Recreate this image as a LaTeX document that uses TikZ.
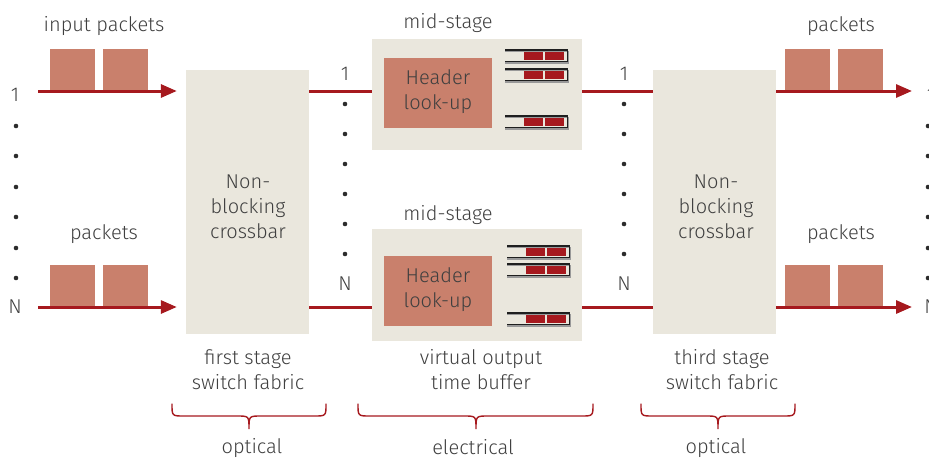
\documentclass[tikz,border=0pt]{standalone}
\usepackage{fontspec}
\setmainfont{Fira Sans}[UprightFont={* Light}]
\usetikzlibrary{arrows.meta}
\definecolor{wire}{HTML}{A6191E}
\definecolor{pkt}{HTML}{C9806C}
\definecolor{fabric}{HTML}{EAE7DD}
\definecolor{ink}{HTML}{3F3F3F}
\tikzset{
  lbl/.style={text=ink, font=\fontsize{20}{25}\selectfont, align=center, inner sep=0pt},
  fabricbox/.style={fill=fabric, draw=none, inner sep=0pt},
  pktbox/.style={fill=pkt, draw=none, inner sep=0pt, minimum width=45pt, minimum height=41pt},
  headerbox/.style={fill=pkt, draw=none, inner sep=0pt, minimum width=108pt, minimum height=70pt},
  wireline/.style={draw=wire, line width=3pt},
  wirearrow/.style={wireline, -{Triangle[length=16pt,width=13pt]}},
  dotmark/.style={circle, fill=ink!70!black, draw=none, inner sep=0pt, minimum size=4.6pt},
  bracepath/.style={draw=wire, line width=1.4pt, line cap=round},
  buffer/.pic={
    \fill[wire] (19,2.3) rectangle (38,10);
    \fill[wire] (40,2.3) rectangle (59,10);
    \draw[black!40, line width=1.4pt] (0,1.2) -- (63.6,1.2) -- (63.6,12.8) -- (0,12.8);
    \draw[black!88, line width=1.2pt] (0,0) -- (62.6,0) -- (62.6,11.8) -- (0,11.8);
  }
}
\begin{document}
\begin{tikzpicture}[x=1pt,y=-1pt]
  \useasboundingbox (0,0) rectangle (929,459);

  % switch fabrics
  \node[fabricbox, minimum width=123pt, minimum height=264pt] (xbar1) at (247.5,202) {};
  \node[fabricbox, minimum width=123pt, minimum height=264pt] (xbar3) at (714.5,202) {};
  \node[lbl] (xbar1txt) at (248,207) {Non-\\blocking\\crossbar};
  \node[lbl] (xbar3txt) at (716,207) {Non-\\blocking\\crossbar};

  % mid-stage buffers
  \node[fabricbox, minimum width=210pt, minimum height=111pt] (mid1) at (477,94.5) {};
  \node[fabricbox, minimum width=210pt, minimum height=112pt] (mid2) at (477,285) {};
  \node[headerbox] (hdr1) at (438,93) {};
  \node[headerbox] (hdr2) at (438,291) {};
  \node[lbl] (hdr1txt) at (438,92) {Header\\look-up};
  \node[lbl] (hdr2txt) at (438,290) {Header\\look-up};
  \node[lbl] (mid1lbl) at (448,23) {mid-stage};
  \node[lbl] (mid2lbl) at (448,215) {mid-stage};

  \foreach \y in {50,69,116} \pic at (505,\y) {buffer};
  \foreach \y in {246,264,313} \pic at (507,\y) {buffer};

  % packets
  \node[pktbox] (pa1) at (72.5,69.5) {};
  \node[pktbox] (pa2) at (125.5,69.5) {};
  \node[pktbox] (pb1) at (72.5,285.5) {};
  \node[pktbox] (pb2) at (125.5,285.5) {};
  \node[pktbox] (pc1) at (807.5,69.5) {};
  \node[pktbox] (pc2) at (860.5,69.5) {};
  \node[pktbox] (pd1) at (807.5,285.5) {};
  \node[pktbox] (pd2) at (860.5,285.5) {};
  \node[lbl] (inlbl) at (104,26) {input packets};
  \node[lbl] (inlblN) at (104,234) {packets};
  \node[lbl] (outlbl) at (841,26) {packets};
  \node[lbl] (outlblN) at (841,234) {packets};

  % ports and wires
  \coordinate (in1) at (38,91);
  \coordinate (inN) at (38,307);
  \coordinate (out1) at (912,91);
  \coordinate (outN) at (912,307);
  \draw[wirearrow, shorten >=9pt] (in1) -- (in1 -| xbar1.west);
  \draw[wirearrow, shorten >=9pt] (inN) -- (inN -| xbar1.west);
  \draw[wireline] (in1 -| xbar1.east) -- (in1 -| mid1.west);
  \draw[wireline] (inN -| xbar1.east) -- (inN -| mid2.west);
  \draw[wireline] (in1 -| mid1.east) -- (in1 -| xbar3.west);
  \draw[wireline] (inN -| mid2.east) -- (inN -| xbar3.west);
  \draw[wirearrow] (out1 -| xbar3.east) -- (out1);
  \draw[wirearrow] (outN -| xbar3.east) -- (outN);

  % port numbering
  \node[lbl] (l1) at (15,95) {1};
  \node[lbl] (lN) at (15,307) {N};
  \node[lbl] (r1) at (931,95) {1};
  \node[lbl] (rN) at (931,307) {N};
  \node[lbl] (m1) at (345,74) {1};
  \node[lbl] (mN) at (345,284) {N};
  \node[lbl] (n1) at (624,74) {1};
  \node[lbl] (nN) at (624,284) {N};
  \foreach \y [count=\i] in {126,156,187,217,248,278} {
    \node[dotmark] (ldot\i) at (16,\y) {};
    \node[dotmark] (rdot\i) at (928,\y) {};
  }
  \foreach \y [count=\i] in {104,134,164,194,224,254} {
    \node[dotmark] (mdot\i) at (345,\y) {};
    \node[dotmark] (ndot\i) at (624,\y) {};
  }

  % stage captions
  \node[lbl] (cap1) at (248,370) {first stage\\switch fabric};
  \node[lbl] (cap2) at (481,370) {virtual output\\time buffer};
  \node[lbl] (cap3) at (722,370) {third stage\\switch fabric};

  % braces
  \foreach \xl/\xc/\xr in {172/249/326, 358/476/593, 641/718/795} {
    \draw[bracepath] (\xl,404) .. controls (\xl,416) .. (\xl+12,416)
      -- (\xc-12,416) .. controls (\xc,416) .. (\xc,429)
      .. controls (\xc,416) .. (\xc+12,416)
      -- (\xr-12,416) .. controls (\xr,416) .. (\xr,404);
  }
  \node[lbl] (opt1) at (252,448) {optical};
  \node[lbl] (elec) at (473,447) {electrical};
  \node[lbl] (opt3) at (716,448) {optical};
\end{tikzpicture}
\end{document}
